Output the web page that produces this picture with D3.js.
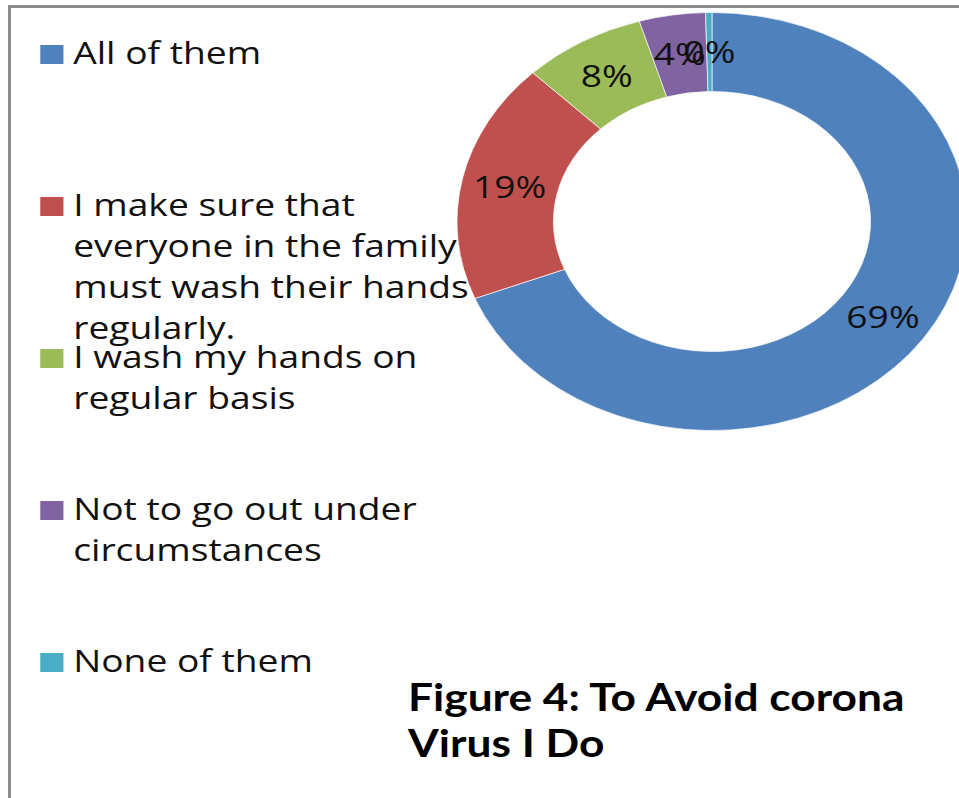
<!DOCTYPE html>
<html lang="en">
  <head>
    <meta charset="utf-8" />
    <title>To Avoid corona Virus I Do</title>
    <script src="https://d3js.org/d3.v7.min.js"></script>
    <style>
      body { margin: 0; background: #fff; }
      .legend-text, .pct { font-family: "Open Sans", sans-serif; fill: #111; }
      .title { font-family: Lato, sans-serif; font-weight: bold; fill: #000; }
    </style>
  </head>
  <body>
    <svg width="959" height="798"></svg>
    <script>
      // data
      const categories = [
        "All of them",
        "I make sure that everyone in the family must wash their hands regularly.",
        "I wash my hands on regular basis",
        "Not to go out under circumstances",
        "None of them",
      ];
      const legendLines = [
        ["All of them"],
        ["I make sure that", "everyone in the family", "must wash their hands", "regularly."],
        ["I wash my hands on", "regular basis"],
        ["Not to go out under", "circumstances"],
        ["None of them"],
      ];
      const values = [69.0, 18.6, 7.8, 4.2, 0.4];
      const pctLabels = ["69%", "19%", "8%", "4%", "0%"];
      const colors = ["#4F81BD", "#C0504D", "#9BBB59", "#8064A2", "#4BACC6"];
      const titleLines = ["Figure 4: To Avoid corona", "Virus I Do"];

      const svg = d3.select("svg");
      const stretch = 1.22; // the whole figure is stretched sideways

      // frame (only top and left edges show)
      svg.append("rect")
        .attr("x", 9.5).attr("y", 6.5)
        .attr("width", 1000).attr("height", 900)
        .attr("fill", "none")
        .attr("stroke", "#8c8c8c")
        .attr("stroke-width", 3);

      const g = svg.append("g").attr("transform", `scale(${stretch},1)`);

      const color = d3.scaleOrdinal().domain(categories).range(colors);

      // donut
      const pie = d3.pie().sort(null).value((d) => d.value);
      const arc = d3.arc().innerRadius(130).outerRadius(209);
      const arcs = pie(categories.map((c, i) => ({ cat: c, value: values[i], label: pctLabels[i] })));

      const donut = g.append("g").attr("transform", "translate(583.6,221.5)");
      donut.selectAll("path")
        .data(arcs)
        .enter()
        .append("path")
        .attr("d", arc)
        .attr("fill", (d) => color(d.data.cat))
        .attr("stroke", "#fff")
        .attr("stroke-width", 0.6);

      donut.selectAll("text")
        .data(arcs)
        .enter()
        .append("text")
        .attr("class", "pct")
        .attr("x", (d) => arc.centroid(d)[0])
        .attr("y", (d) => arc.centroid(d)[1])
        .attr("dy", "0.36em")
        .attr("text-anchor", "middle")
        .attr("font-size", "30.5px")
        .text((d) => d.data.label);

      // legend
      const y = d3.scalePoint().domain(categories).range([64, 672]);
      const lineH = 41;
      const items = g.append("g")
        .selectAll("g")
        .data(categories)
        .enter()
        .append("g")
        .attr("transform", (d) => `translate(0,${y(d)})`);
      items.append("rect")
        .attr("x", 33).attr("y", -19)
        .attr("width", 19).attr("height", 19)
        .attr("fill", (d) => color(d));
      items.append("text")
        .attr("class", "legend-text")
        .attr("font-size", "30.5px")
        .selectAll("tspan")
        .data((d, i) => legendLines[i])
        .enter()
        .append("tspan")
        .attr("x", 60)
        .attr("y", (d, i) => i * lineH)
        .text((d) => d);

      // caption
      svg.append("text")
        .attr("class", "title")
        .attr("font-size", "38px")
        .attr("transform", "translate(408,0) scale(1.165,1)")
        .selectAll("tspan")
        .data(titleLines)
        .enter()
        .append("tspan")
        .attr("x", 0)
        .attr("y", (d, i) => 711 + i * 46)
        .text((d) => d);
    </script>
  </body>
</html>
